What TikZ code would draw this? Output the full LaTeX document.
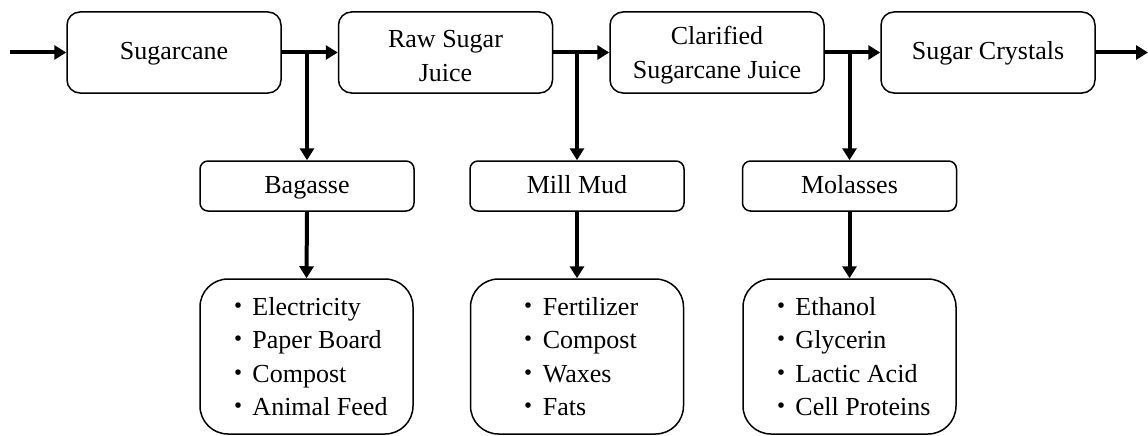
\documentclass[tikz,border=0pt]{standalone}
\usepackage{fontspec}
\setmainfont{Liberation Serif}
\newfontfamily\cjkfont{Noto Sans CJK JP}
\usetikzlibrary{arrows.meta}
\begin{document}
\begin{tikzpicture}[x=1pt,y=-1pt,
  every node/.style={font=\fontsize{26}{33.5}\selectfont, inner sep=0pt},
  one/.style={text height=18pt, text depth=4pt},
  topbox/.style={draw, line width=1.5pt, rounded corners=13pt, minimum width=214pt, minimum height=81pt},
  midbox/.style={draw, line width=1.5pt, rounded corners=8pt, minimum width=214pt, minimum height=50pt, one},
  listbox/.style={draw, line width=1.5pt, rounded corners=28pt, minimum width=213pt, minimum height=155pt, align=left},
  flow/.style={line width=4pt, -{Triangle[length=12pt,width=14pt]}}
]
\useasboundingbox[fill=white] (0,0) rectangle (1148,436);
\newcommand{\bl}{\makebox[27pt][l]{\cjkfont ・}}
\newcommand{\tallstrut}{\rule{0pt}{24pt}}
% top row
\node[topbox, one] (sc) at (174,52.5) {Sugarcane};
\node[topbox, align=center] (raw) at (445.5,52.5) {\tallstrut Raw Sugar\\Juice};
\node[topbox, align=center] (cl) at (717,52.5) {\tallstrut Clarified\\Sugarcane Juice};
\node[topbox, one] (cr) at (988,52.5) {Sugar Crystals};
% middle row
\node[midbox] (bag) at (307,186) {Bagasse};
\node[midbox] (mill) at (577,186) {Mill Mud};
\node[midbox] (mol) at (849.5,186) {Molasses};
% bottom row
\node[listbox] (bagl) at (306.5,356.5) {\bl Electricity\\\bl Paper Board\\\bl Compost\\\bl Animal Feed};
\node[listbox] (milll) at (577,356.5) {\bl Fertilizer\\\bl Compost\\\bl Waxes\\\bl Fats};
\node[listbox] (moll) at (849.5,356.5) {\bl Ethanol\\\bl Glycerin\\\bl Lactic Acid\\\bl Cell Proteins};
% in/out
\coordinate (in) at (10,52.5);
\coordinate (out) at (1148,52.5);
\draw[flow] (in) -- (sc.west);
\draw[flow] (cr.east) -- (out);
% main flow
\draw[flow] (sc.east) -- (raw.west);
\draw[flow] (raw.east) -- (cl.west);
\draw[flow] (cl.east) -- (cr.west);
% branches
\draw[flow] (sc.east -| bag.north) -- (bag.north);
\draw[flow] (raw.east -| mill.north) -- (mill.north);
\draw[flow] (cl.east -| mol.north) -- (mol.north);
\draw[flow] (bag.south) -- (bagl.north);
\draw[flow] (mill.south) -- (milll.north);
\draw[flow] (mol.south) -- (moll.north);
\end{tikzpicture}
\end{document}
